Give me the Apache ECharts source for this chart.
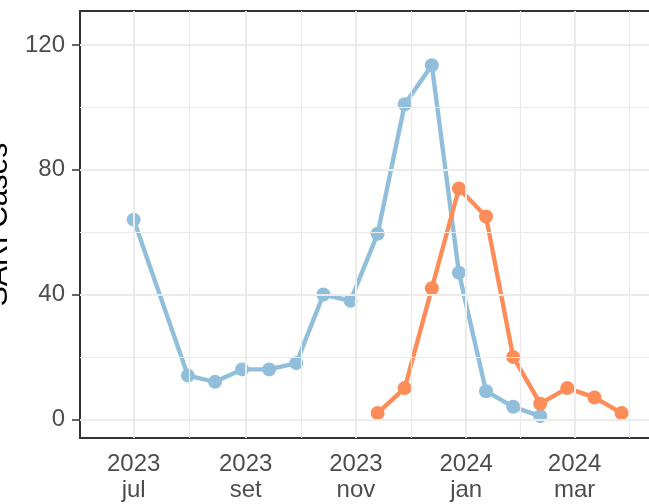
<!DOCTYPE html>
<html><head><meta charset="utf-8">
<script src="https://cdn.jsdelivr.net/npm/echarts@6/dist/echarts.min.js"></script>
<style>html,body{margin:0;padding:0;background:#fff}#c{width:649px;height:504px}</style>
</head><body><div id="c"></div>
<script>
// ---- data ----
const blueDates = ['2023-07-01','2023-07-31','2023-08-15','2023-08-30','2023-09-14','2023-09-29','2023-10-14','2023-10-29','2023-11-13','2023-11-28','2023-12-13','2023-12-28','2024-01-12','2024-01-27','2024-02-11'];
const blueCases = [64, 14, 12, 16, 16, 18, 40, 38, 59.5, 101, 113.5, 47, 9, 4, 1];
const orangeDates = ['2023-11-13','2023-11-28','2023-12-13','2023-12-28','2024-01-12','2024-01-27','2024-02-11','2024-02-26','2024-03-12','2024-03-27'];
const orangeCases = [2, 10, 42, 74, 65, 20, 5, 10, 7, 2];
const xTickDates = ['2023-07-01','2023-09-01','2023-11-01','2024-01-01','2024-03-01'];
const xTickLabels = ['2023\njul','2023\nset','2023\nnov','2024\njan','2024\nmar'];
const xMinorDates = ['2023-08-01','2023-10-01T12:00','2023-12-01T12:00','2024-01-31','2024-03-31T12:00'];
const xRange = ['2023-06-01T07:00','2024-04-25T14:00'];
const yTicks = [0, 40, 80, 120];
const yMinor = [20, 60, 100];
const yRange = [-6, 130.9];
const yTitle = 'SARI Cases';

// ---- helpers ----
function t(s){ return s.length === 10 ? Date.parse(s + 'T00:00:00Z') : Date.parse(s + ':00Z'); }
const xTickVals = xTickDates.map(t);
function pairs(d, v){ return d.map((s, i) => [t(s), v[i]]); }

const GRID = '#EBEBEB';
const gridLines = [].concat(
  yMinor.map(v => ({ yAxis: v, lineStyle: { color: GRID, width: 1.2, type: 'solid' } })),
  xMinorDates.map(s => ({ xAxis: t(s), lineStyle: { color: GRID, width: 1.2, type: 'solid' } })),
  yTicks.map(v => ({ yAxis: v, lineStyle: { color: GRID, width: 2, type: 'solid' } })),
  xTickVals.map(v => ({ xAxis: v, lineStyle: { color: GRID, width: 2, type: 'solid' } }))
);

const FONT = '"Liberation Sans", Arial, sans-serif';
const chart = echarts.init(document.getElementById('c'), null, { renderer: 'canvas' });
chart.setOption({
  animation: false,
  backgroundColor: '#fff',
  grid: {
    left: 80, top: 11, right: -26, bottom: 66,
    show: true, borderColor: '#333333', borderWidth: 2, backgroundColor: 'transparent',
    containLabel: false, outerBoundsMode: 'none'
  },
  xAxis: {
    type: 'value',
    min: t(xRange[0]), max: t(xRange[1]),
    axisLine: { show: false },
    splitLine: { show: false },
    axisTick: { show: true, customValues: xTickVals, length: 8, lineStyle: { color: '#333333', width: 1.5 } },
    axisLabel: {
      customValues: xTickVals,
      formatter: v => { const i = xTickVals.indexOf(v); return i >= 0 ? xTickLabels[i] : ''; },
      fontSize: 24, lineHeight: 26, color: '#4D4D4D', fontFamily: FONT, margin: 13
    }
  },
  yAxis: {
    type: 'value',
    min: yRange[0], max: yRange[1],
    axisLine: { show: false },
    splitLine: { show: false },
    axisTick: { show: true, customValues: yTicks, length: 8, lineStyle: { color: '#333333', width: 1.5 } },
    axisLabel: { customValues: yTicks, fontSize: 24, color: '#4D4D4D', fontFamily: FONT, margin: 15 },
    name: yTitle, nameLocation: 'middle', nameGap: 58, nameRotate: 90,
    nameTextStyle: { fontSize: 30, color: '#000', fontFamily: FONT }
  },
  series: [
    {
      type: 'line', data: [], z: 1, silent: true,
      markLine: { silent: true, symbol: ['none', 'none'], label: { show: false }, emphasis: { disabled: true }, animation: false, data: gridLines }
    },
    {
      name: 'blue', type: 'line', z: 2, data: pairs(blueDates, blueCases),
      symbol: 'circle', symbolSize: 14, showSymbol: true,
      lineStyle: { color: '#91BFDB', width: 4.4 },
      itemStyle: { color: '#91BFDB', borderWidth: 0 }
    },
    {
      name: 'orange', type: 'line', z: 3, data: pairs(orangeDates, orangeCases),
      symbol: 'circle', symbolSize: 14, showSymbol: true,
      lineStyle: { color: '#FC8D59', width: 4.4 },
      itemStyle: { color: '#FC8D59', borderWidth: 0 }
    }
  ]
});
</script>
</body></html>
